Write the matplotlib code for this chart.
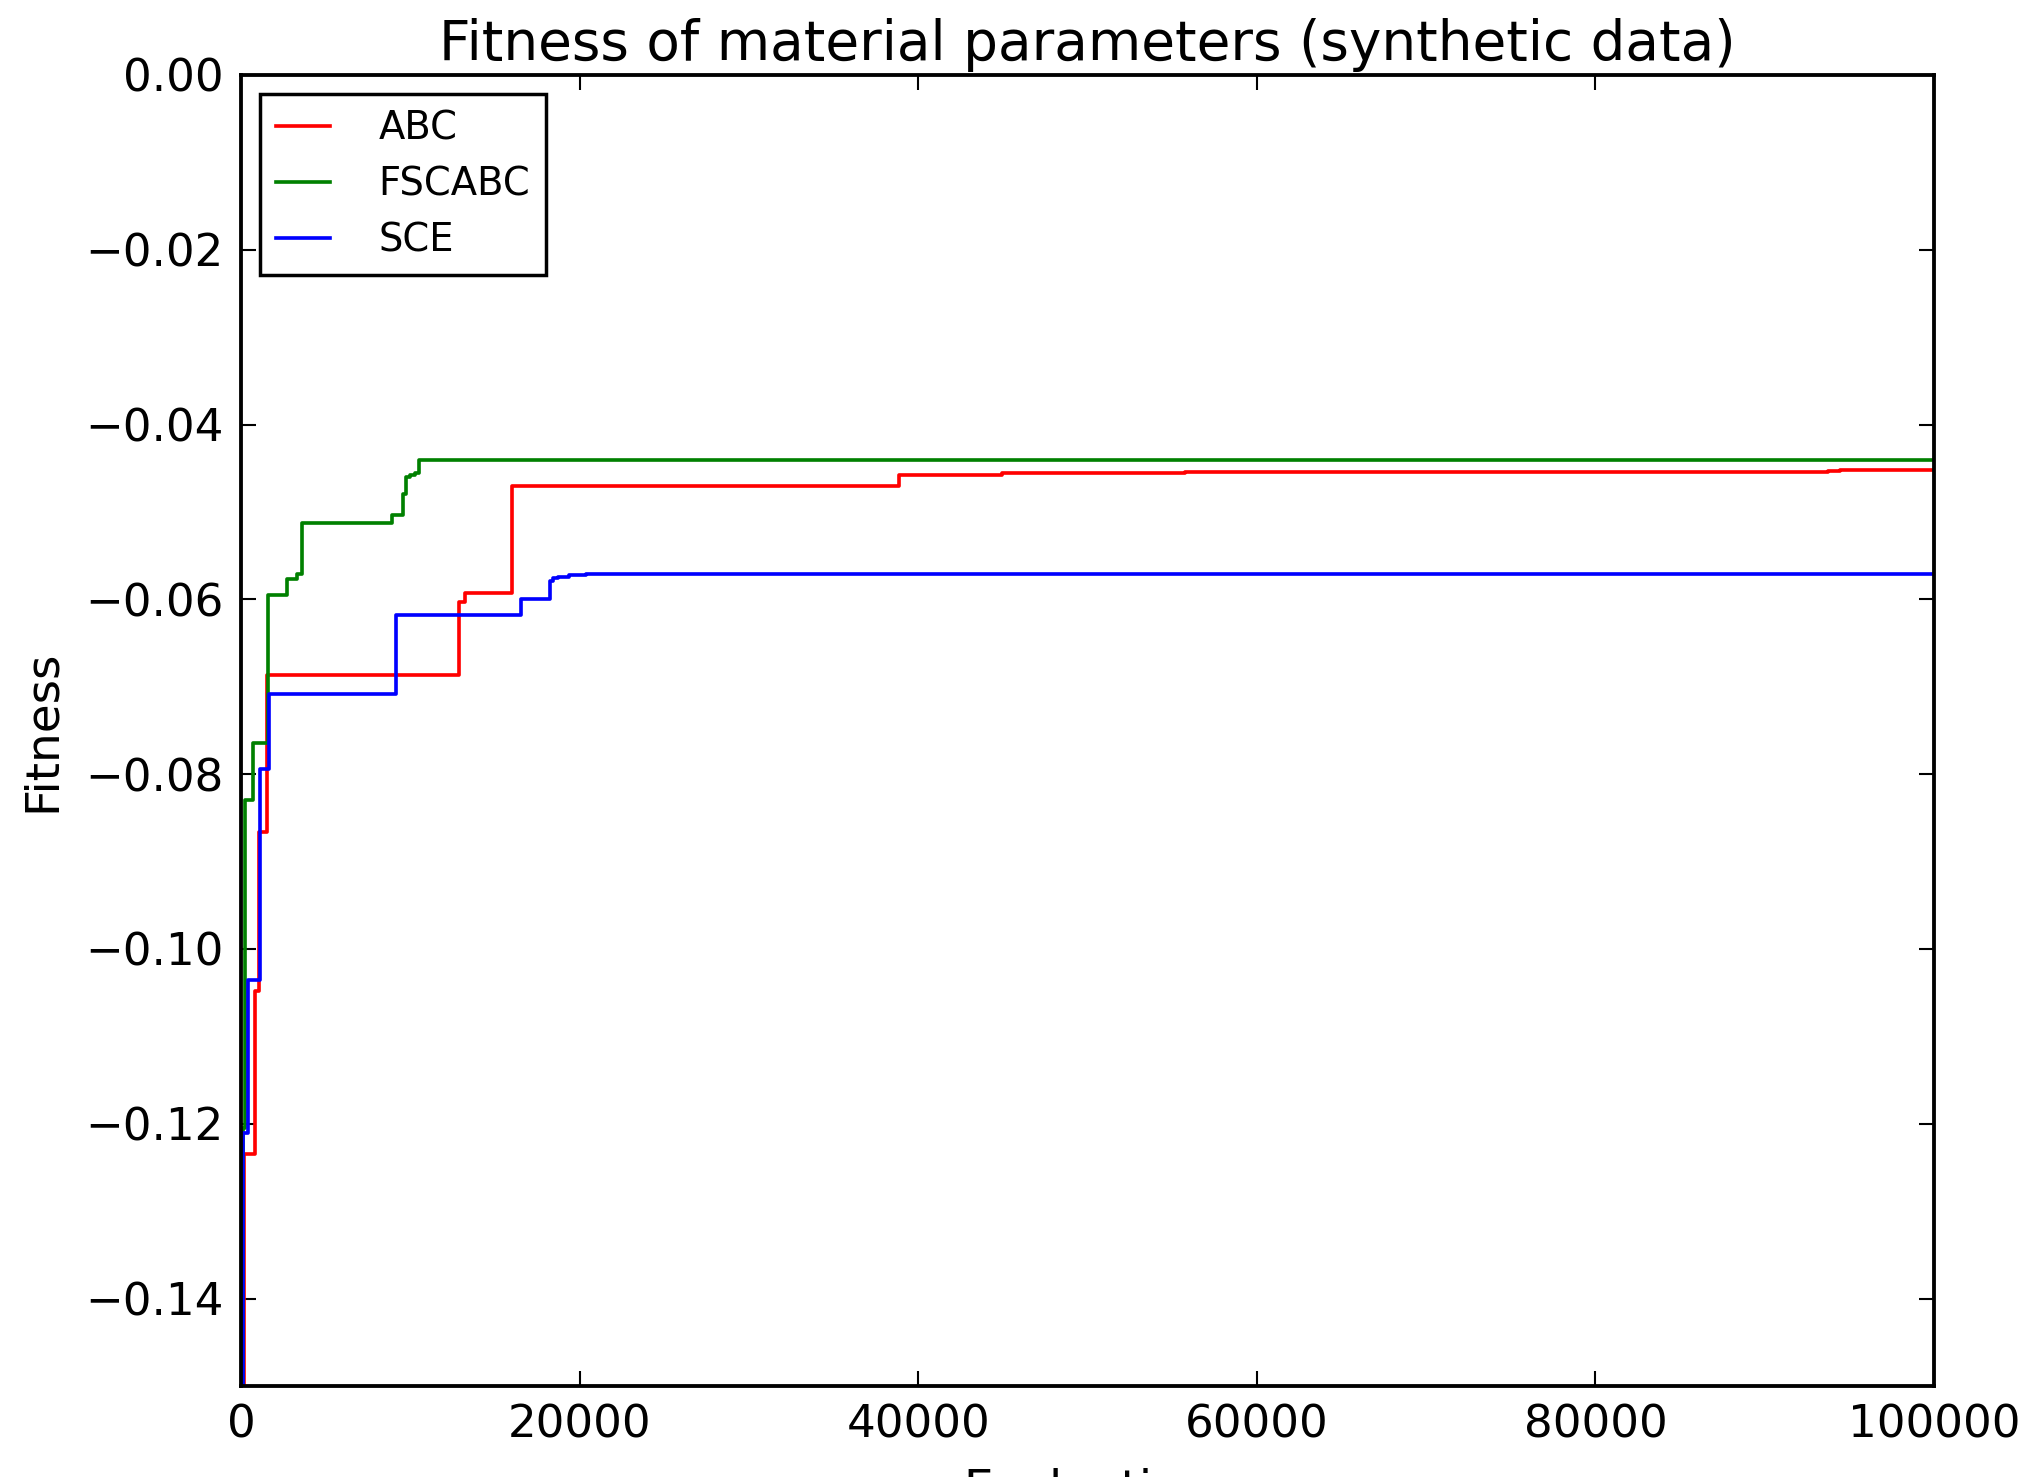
import matplotlib
matplotlib.use('Agg')
import matplotlib.pyplot as plt

# Best-so-far fitness per algorithm, recorded at the evaluation where it improved
ABC_EVALS = [100, 150, 830, 1040, 1560, 12900, 13230, 16010, 38870, 44970,
             55770, 93760, 94450, 100000]
ABC_FITNESS = [-0.2, -0.1235, -0.1048, -0.0866, -0.0687, -0.0603, -0.0593,
               -0.0470, -0.0458, -0.04554, -0.04548, -0.04535, -0.0452, -0.0452]

FSCABC_EVALS = [100, 120, 230, 690, 1600, 2700, 3290, 3620, 8940, 9550, 9730,
                10000, 10250, 10510, 100000]
FSCABC_FITNESS = [-0.2, -0.1205, -0.0829, -0.0764, -0.0595, -0.0577, -0.0571,
                  -0.0513, -0.0503, -0.0479, -0.0460, -0.0458, -0.0455,
                  -0.0441, -0.0441]

SCE_EVALS = [100, 130, 410, 1140, 1640, 9150, 16550, 18250, 18450, 18750,
             19400, 20400, 100000]
SCE_FITNESS = [-0.2, -0.1211, -0.1036, -0.0794, -0.0708, -0.0618, -0.0599,
               -0.0579, -0.0576, -0.0574, -0.0572, -0.0571, -0.0571]

X_TICKS = [0, 20000, 40000, 60000, 80000, 100000]
Y_TICKS = [0.00, -0.02, -0.04, -0.06, -0.08, -0.10, -0.12, -0.14]

DPI = 250
fig = plt.figure(figsize=(2031 / DPI, 1477 / DPI), dpi=DPI)
fig.patch.set_facecolor('white')
ax = fig.add_axes([241 / 2031, 1 - 1386 / 1477, 1693 / 2031, 1311 / 1477])

ax.step(ABC_EVALS, ABC_FITNESS, where='post', color='r', lw=1.05, label='ABC')
ax.step(FSCABC_EVALS, FSCABC_FITNESS, where='post', color='g', lw=1.05, label='FSCABC')
ax.step(SCE_EVALS, SCE_FITNESS, where='post', color='b', lw=1.05, label='SCE')

ax.set_xlim(0, 100000)
ax.set_ylim(-0.15, 0.0)
ax.set_xticks(X_TICKS)
ax.set_yticks(Y_TICKS)

ax.tick_params(which='both', direction='in', top=True, right=True,
               length=4.3, width=0.6, pad=5, labelsize=13)
for spine in ax.spines.values():
    spine.set_linewidth(1.1)

ax.set_xlabel('Evaluation', fontsize=13.5, labelpad=6)
ax.set_ylabel('Fitness', fontsize=13.5, labelpad=6)
ax.set_title('Fitness of material parameters (synthetic data)', fontsize=15.8,
             y=1 + 15 / 1311, pad=0, va='baseline')

leg = ax.legend(loc='upper left', fontsize=11.1, borderaxespad=0.5,
                handlelength=1.42, handletextpad=1.25, borderpad=0.4,
                labelspacing=0.47, fancybox=False, framealpha=1)
leg.get_frame().set_edgecolor('black')
leg.get_frame().set_linewidth(1.0)

fig.savefig('out.png', dpi=DPI, facecolor='white')
